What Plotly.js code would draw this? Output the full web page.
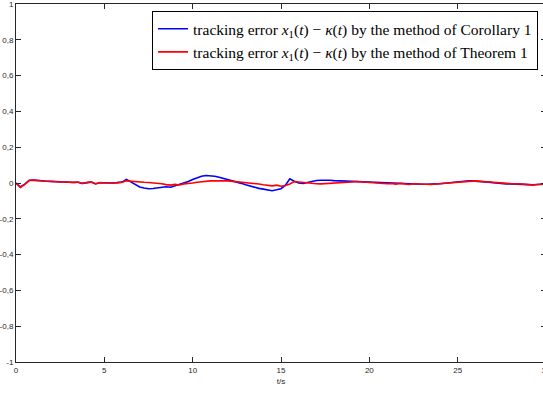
<!DOCTYPE html>
<html>
<head>
<meta charset="utf-8">
<script src="https://cdn.plot.ly/plotly-3.0.1.min.js"></script>
<style>
html,body{margin:0;padding:0;overflow:hidden;background:#fff;}
#chart{width:546px;height:394px;}
</style>
</head>
<body>
<div id="chart"></div>
<script>
// time grid: 0 to 30 s in steps of 0.25 s
var tStart = 0, tStep = 0.25, nPoints = 121;

// tracking error, method of Corollary 1 (blue)
var errCorollary = [
  0, -0.022, -0.006, 0.015, 0.016, 0.013, 0.01, 0.01, 0.009, 0.009, 0.007, 0.006, 0.004, 0.003, 0.004, -0.002, 0.002, 0.005, -0.004, 0.001, 0.001, -0.001, 0.0, 0.002, 0.005,
  0.02, 0.006, -0.012, -0.022, -0.028, -0.032, -0.031, -0.028, -0.025, -0.021, -0.024, -0.016, -0.012, -0.004, 0.008, 0.02,
  0.03, 0.038, 0.042, 0.041, 0.038, 0.032, 0.026, 0.02, 0.013, 0.006, -0.002, -0.01, -0.018, -0.025, -0.03, -0.034,
  -0.038, -0.043, -0.038, -0.032, -0.012, 0.024, 0.01, 0.0, -0.003, 0.002, 0.01, 0.014, 0.015, 0.016, 0.015, 0.013,
  0.012, 0.011, 0.01, 0.008, 0.008, 0.006, 0.005, 0.004,
  0.002, -0.001, -0.002, -0.003, -0.004, -0.004, -0.003, -0.005, -0.006, -0.005,
  -0.007, -0.007, -0.007, -0.008, -0.005, -0.004, -0.001, 0.002, 0.004, 0.007,
  0.009, 0.011, 0.012, 0.011, 0.01, 0.008, 0.005, 0.002, -0.001, -0.004,
  -0.005, -0.005, -0.005, -0.006, -0.007, -0.009, -0.01, -0.008, -0.007, -0.006
];

// tracking error, method of Theorem 1 (red)
var errTheorem = [
  0, -0.025, -0.008, 0.014, 0.016, 0.012, 0.011, 0.01, 0.008, 0.01, 0.006, 0.007, 0.003, 0.002, 0.005, -0.003, 0.003, 0.006, -0.005, 0.002, 0.0, -0.002, 0.0, 0.002, 0.004,
  0.012, 0.009, 0.006, 0.005, 0.004, 0.003, 0.002, 0.0, -0.004, -0.009, -0.012, -0.008, -0.011, -0.005, -0.004, 0.0,
  0.004, 0.008, 0.01, 0.012, 0.012, 0.014, 0.012, 0.012, 0.01, 0.008, 0.006, 0.004, 0.0, -0.004, -0.006, -0.01,
  -0.012, -0.016, -0.012, -0.018, -0.014, -0.006, 0.008, 0.005, 0.002, 0.0, -0.002, -0.004, -0.005, -0.004, -0.003, -0.002,
  0.0, 0.002, 0.004, 0.006, 0.008, 0.006, 0.005, 0.003,
  0.0, -0.002, 0.0, -0.004, -0.002, -0.006, -0.002, -0.004, -0.008, -0.004,
  -0.006, -0.008, -0.006, -0.008, -0.006, -0.004, -0.002, 0.0, 0.004, 0.006,
  0.008, 0.01, 0.01, 0.012, 0.01, 0.008, 0.006, 0.002, -0.002, -0.004,
  -0.006, -0.004, -0.006, -0.004, -0.006, -0.01, -0.012, -0.008, -0.006, -0.005
];

var seriesNames = [
  'tracking error <i>x</i><sub>1</sub>(<i>t</i>) − <i>κ</i>(<i>t</i>) by the method of Corollary 1',
  'tracking error <i>x</i><sub>1</sub>(<i>t</i>) − <i>κ</i>(<i>t</i>) by the method of Theorem 1'
];

var xTickVals = [0, 5, 10, 15, 20, 25, 30];
var xTickText = ['0', '5', '10', '15', '20', '25', '30'];
var yTickVals = [-1, -0.8, -0.6, -0.4, -0.2, 0, 0.2, 0.4, 0.6, 0.8, 1];
var yTickText = ['-1', '-0,8', '-0,6', '-0,4', '-0,2', '0', '0,2', '0,4', '0,6', '0,8', '1'];
var xTitle = 't/s';

var timeS = [];
for (var i = 0; i < nPoints; i++) timeS.push(tStart + i * tStep);

var traces = [
  {x: timeS, y: errCorollary, type: 'scatter', mode: 'lines', name: seriesNames[0],
   line: {color: '#0000ff', width: 1.6}},
  {x: timeS, y: errTheorem, type: 'scatter', mode: 'lines', name: seriesNames[1],
   line: {color: '#ff0000', width: 1.6}}
];

var tickFont = {family: '"Liberation Sans Narrow", "Liberation Sans", Arial, sans-serif', size: 8, color: '#262626'};

var layout = {
  width: 546, height: 394,
  margin: {l: 16, r: 0, t: 3.5, b: 31.5, pad: 0},
  paper_bgcolor: '#ffffff', plot_bgcolor: '#ffffff',
  showlegend: true,
  legend: {
    x: 0.985, xanchor: 'right', y: 0.98, yanchor: 'top',
    bgcolor: '#ffffff', bordercolor: '#000000', borderwidth: 1,
    font: {family: '"Liberation Serif", "DejaVu Serif", serif', size: 15.5, color: '#000000'},
    itemwidth: 30, tracegroupgap: 0
  },
  xaxis: {
    range: [0, 30], tickmode: 'array', tickvals: xTickVals, ticktext: xTickText,
    ticks: 'inside', ticklen: 5, tickwidth: 1, tickcolor: '#262626',
    showline: true, linecolor: '#262626', linewidth: 1, mirror: 'ticks',
    showgrid: false, zeroline: false, tickfont: tickFont, ticklabeloverflow: 'allow',
    title: {text: xTitle, font: tickFont, standoff: 4}
  },
  yaxis: {
    range: [-1, 1], tickmode: 'array', tickvals: yTickVals, ticktext: yTickText,
    ticks: 'inside', ticklen: 5, tickwidth: 1, tickcolor: '#262626',
    showline: true, linecolor: '#262626', linewidth: 1, mirror: 'ticks',
    showgrid: false, zeroline: false, tickfont: tickFont, ticklabeloverflow: 'allow'
  }
};

Plotly.newPlot('chart', traces, layout, {displayModeBar: false, staticPlot: true});
</script>
</body>
</html>
